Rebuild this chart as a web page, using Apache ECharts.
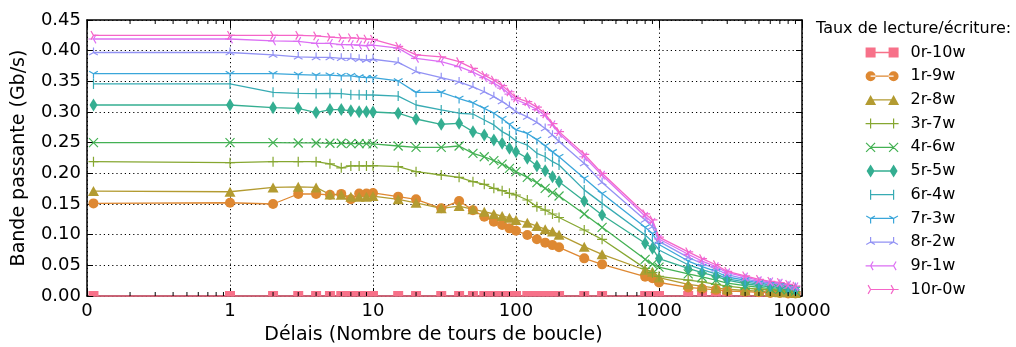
<!DOCTYPE html>
<html><head><meta charset="utf-8">
<script src="https://cdn.jsdelivr.net/npm/echarts@6/dist/echarts.min.js"></script>
<style>html,body{margin:0;padding:0;background:#fff}#c{width:1016px;height:347px}</style>
</head><body><div id="c"></div><script>
// x values (delay); 0 is drawn just right of the 0.1 axis start
const delays = [0,1,2,3,4,5,6,7,8,9,10,15,20,30,40,50,60,70,80,90,100,120,140,160,180,200,300,400,800,900,1000,1600,2000,2500,3000,4000,5000,6000,7000,8000,9000];
const ZERO_POS = 0.111;
const xTickLabels = ['0','1','10','100','1000','10000'];
const yTickLabels = ['0.00','0.05','0.10','0.15','0.20','0.25','0.30','0.35','0.40','0.45'];
const minorTicks = [0.2,0.3,0.4,0.5,0.6,0.7,0.8,0.9,2,3,4,5,6,7,8,9,20,30,40,50,60,70,80,90,200,300,400,500,600,700,800,900,2000,3000,4000,5000,6000,7000,8000,9000];

const seriesNames = ['0r-10w','1r-9w','2r-8w','3r-7w','4r-6w','5r-5w','6r-4w','7r-3w','8r-2w','9r-1w','10r-0w'];

const r0 = [0,0,0,0,0,0,0,0,0,0,0,0,0,0,0,0,0,0,0,0,0,0,0,0,0,0,0,0,0,0,0,0,0,0,0,0,0,0,0,0,0];
const r1 = [0.151,0.152,0.150,0.1663,0.1663,0.165,0.1665,0.1576,0.167,0.167,0.168,0.162,0.1576,0.143,0.155,0.140,0.1293,0.1212,0.1158,0.1103,0.1065,0.0995,0.0924,0.087,0.083,0.0794,0.0614,0.0516,0.0315,0.0288,0.022,0.014,0.012,0.010,0.008,0.007,0.006,0.005,0.005,0.004,0.004];
const r2 = [0.171,0.170,0.177,0.178,0.177,0.1655,0.165,0.162,0.162,0.162,0.163,0.1576,0.152,0.143,0.1467,0.1413,0.1375,0.1337,0.1304,0.1277,0.124,0.1196,0.114,0.109,0.105,0.100,0.0804,0.068,0.0424,0.0397,0.030,0.019,0.016,0.013,0.011,0.009,0.008,0.007,0.006,0.006,0.005];
const r3 = [0.219,0.2174,0.219,0.219,0.219,0.2155,0.209,0.212,0.212,0.212,0.2125,0.2109,0.2027,0.1973,0.1935,0.1864,0.1821,0.1756,0.1717,0.1674,0.1647,0.1565,0.1457,0.140,0.1337,0.128,0.1076,0.0924,0.045,0.038,0.032,0.026,0.023,0.019,0.016,0.013,0.011,0.010,0.009,0.008,0.007];
const r4 = [0.250,0.250,0.250,0.2495,0.2495,0.249,0.249,0.2485,0.2485,0.2484,0.248,0.2446,0.2424,0.2424,0.2446,0.2326,0.227,0.2206,0.215,0.208,0.2027,0.1935,0.1848,0.1755,0.1685,0.163,0.1337,0.112,0.0598,0.052,0.047,0.036,0.031,0.026,0.021,0.017,0.014,0.012,0.011,0.010,0.008];
const r5 = [0.3114,0.3114,0.307,0.306,0.299,0.304,0.304,0.302,0.3005,0.3005,0.300,0.298,0.2886,0.280,0.2816,0.268,0.2625,0.2544,0.249,0.2408,0.2353,0.2245,0.212,0.2043,0.1946,0.1864,0.155,0.132,0.086,0.0777,0.061,0.045,0.038,0.032,0.026,0.020,0.017,0.015,0.014,0.012,0.010];
const r6 = [0.3457,0.3457,0.332,0.3305,0.330,0.3305,0.330,0.3283,0.328,0.3277,0.3277,0.326,0.3114,0.3033,0.298,0.2967,0.287,0.279,0.268,0.2614,0.2527,0.246,0.2326,0.227,0.219,0.2136,0.173,0.151,0.0995,0.0886,0.075,0.051,0.043,0.036,0.028,0.023,0.019,0.017,0.015,0.013,0.011];
const r7 = [0.3625,0.3625,0.3625,0.361,0.360,0.360,0.359,0.359,0.357,0.356,0.356,0.3506,0.332,0.332,0.322,0.315,0.306,0.298,0.289,0.280,0.271,0.265,0.255,0.245,0.235,0.227,0.192,0.167,0.112,0.102,0.084,0.057,0.048,0.040,0.031,0.026,0.021,0.019,0.017,0.015,0.012];
const r8 = [0.397,0.397,0.393,0.390,0.389,0.389,0.3875,0.3875,0.386,0.385,0.386,0.381,0.366,0.356,0.349,0.341,0.333,0.325,0.317,0.309,0.3005,0.292,0.283,0.273,0.262,0.252,0.216,0.185,0.124,0.113,0.089,0.063,0.053,0.044,0.035,0.028,0.023,0.021,0.019,0.016,0.014];
const r9 = [0.419,0.419,0.416,0.415,0.412,0.412,0.410,0.410,0.409,0.408,0.409,0.404,0.3875,0.382,0.374,0.365,0.356,0.347,0.339,0.329,0.320,0.3125,0.304,0.294,0.279,0.265,0.227,0.197,0.130,0.120,0.093,0.068,0.057,0.048,0.038,0.031,0.025,0.023,0.021,0.018,0.015];
const r10 = [0.425,0.425,0.425,0.425,0.424,0.422,0.421,0.421,0.420,0.419,0.4185,0.407,0.393,0.390,0.382,0.371,0.360,0.352,0.343,0.333,0.323,0.317,0.308,0.297,0.281,0.268,0.231,0.200,0.134,0.124,0.096,0.072,0.061,0.051,0.040,0.033,0.027,0.024,0.022,0.019,0.016];
const seriesValues = [r0,r1,r2,r3,r4,r5,r6,r7,r8,r9,r10];

const colors = ['#f77189','#de8832','#b39b31','#86a731','#43b153','#34ae91','#37abb3','#3aa6da','#9292f4','#dc6ff4','#f565c8'];

const FONT = 'DejaVu Sans';
const LF = 'M5,6.35L28,6.35L28,7.65L5,7.65Z';
const LS = 'M5,7L28,7';
const BOX = 'M-1,0M40,14';
const SB = 'M-5,-5M5,5';
// [symbol, size, filled, legend icon path, offset]
const marks = [
  ['rect',[10,5],true, BOX+'M0,2L10,2L10,12L0,12ZM23,2L33,2L33,12L23,12Z'+LF, [0,-2.5]],
  ['circle',10,true, BOX+'M0,7A5,5 0 1,0 10,7A5,5 0 1,0 0,7ZM23,7A5,5 0 1,0 33,7A5,5 0 1,0 23,7Z'+LF],
  ['triangle',[11,10],true, BOX+'M5,2L10.5,12L-0.5,12ZM28,2L33.5,12L22.5,12Z'+LF],
  ['path://'+SB+'M0,-5L0,5M-5,0L5,0',10,false, BOX+'M5,2L5,12M0,7L10,7M28,2L28,12M23,7L33,7'+LS],
  ['path://'+SB+'M-4.5,-4.5L4.5,4.5M-4.5,4.5L4.5,-4.5',10,false, BOX+'M0.5,2.5L9.5,11.5M0.5,11.5L9.5,2.5M23.5,2.5L32.5,11.5M23.5,11.5L32.5,2.5'+LS],
  ['diamond',[8,13],true, BOX+'M5,0.5L9,7L5,13.5L1,7ZM28,0.5L32,7L28,13.5L24,7Z'+LF],
  ['path://'+SB+'M0,-5L0,5',10,false, BOX+'M5,2L5,12M28,2L28,12'+LS],
  ['path://'+SB+'M0,0L0,5M0,0L-4.33,-2.5M0,0L4.33,-2.5',10,false, BOX+'M5,7L5,12M5,7L0.67,4.5M5,7L9.33,4.5M28,7L28,12M28,7L23.67,4.5M28,7L32.33,4.5'+LS],
  ['path://'+SB+'M0,0L0,-5M0,0L-4.33,2.5M0,0L4.33,2.5',10,false, BOX+'M5,7L5,2M5,7L0.67,9.5M5,7L9.33,9.5M28,7L28,2M28,7L23.67,9.5M28,7L32.33,9.5'+LS],
  ['path://'+SB+'M0,0L-5,0M0,0L2.5,-4.33M0,0L2.5,4.33',10,false, BOX+'M5,7L0,7M5,7L7.5,2.67M5,7L7.5,11.33M28,7L23,7M28,7L30.5,2.67M28,7L30.5,11.33'+LS],
  ['path://'+SB+'M0,0L5,0M0,0L-2.5,-4.33M0,0L-2.5,4.33',10,false, BOX+'M5,7L10,7M5,7L2.5,2.67M5,7L2.5,11.33M28,7L33,7M28,7L25.5,2.67M28,7L25.5,11.33'+LS]
];

const series = seriesNames.map((name, i) => {
  const m = marks[i];
  const c = colors[i];
  return {
    name, type: 'line', xAxisIndex: 0, yAxisIndex: 0,
    data: delays.map((d, k) => [d === 0 ? ZERO_POS : d, seriesValues[i][k]]),
    symbol: m[0], symbolSize: m[1], symbolOffset: m[4] || [0,0],
    showSymbol: true, showAllSymbol: true, clip: false,
    lineStyle: { color: c, width: 1.3 },
    itemStyle: m[2] ? { color: c, borderWidth: 0 } : { color: 'rgba(0,0,0,0)', borderColor: c, borderWidth: 1.2 },
    emphasis: { disabled: true },
    animation: false
  };
});

series.push({
  type: 'custom', xAxisIndex: 0, yAxisIndex: 0, silent: true, clip: false, z: 5, animation: false,
  data: minorTicks.map(v => [v, 0]),
  encode: { x: 0, y: 1 },
  renderItem: (params, api) => {
    const v = api.value(0);
    const b = api.coord([v, 0]);
    const t = api.coord([v, 0.45]);
    return { type: 'group', children: [
      { type: 'line', shape: { x1: b[0], y1: b[1], x2: b[0], y2: b[1] - 4 }, style: { stroke: '#000', lineWidth: 1 } },
      { type: 'line', shape: { x1: t[0], y1: t[1], x2: t[0], y2: t[1] + 4 }, style: { stroke: '#000', lineWidth: 1 } }
    ]};
  }
});

const axisLine = { show: true, onZero: false, lineStyle: { color: '#000', width: 1.5 } };
const gridLine = { show: true, lineStyle: { color: '#000', width: 1, type: [1.2, 3] } };

const option = {
  backgroundColor: '#fff',
  animation: false,
  title: { text: 'Taux de lecture/écriture:', left: 816, top: 21, padding: 0,
    textStyle: { fontSize: 16, fontWeight: 'normal', color: '#000', fontFamily: FONT } },
  legend: {
    orient: 'vertical', left: 864, top: 44.5, itemWidth: 41, itemHeight: 14, itemGap: 7.7, padding: 0,
    selectedMode: false,
    textStyle: { fontSize: 16, color: '#000', fontFamily: FONT, lineHeight: 14 },
    data: seriesNames.map((name, i) => ({
      name, icon: 'path://' + marks[i][3],
      itemStyle: marks[i][2] ? { color: colors[i], borderWidth: 0 } : { color: 'rgba(0,0,0,0)', borderColor: colors[i], borderWidth: 1.2 }
    }))
  },
  grid: { left: 87, right: 214, top: 20, bottom: 51, containLabel: false, outerBoundsMode: 'none' },
  xAxis: [
    { type: 'log', logBase: 10, min: 0.1, max: 10000, position: 'bottom', z: 3,
      axisLine, axisTick: { show: true, inside: true, length: 8, lineStyle: { color: '#000', width: 1 } },
      axisLabel: { color: '#000', fontSize: 18, fontFamily: FONT, margin: 6, showMinLabel: true, showMaxLabel: true,
        formatter: v => xTickLabels[Math.round(Math.log10(v)) + 1] },
      splitLine: gridLine, minorTick: { show: false },
      name: 'Délais (Nombre de tours de boucle)', nameLocation: 'middle', nameGap: 30,
      nameTextStyle: { fontSize: 19, color: '#000', fontFamily: FONT, padding: [0, 22, 0, 0] } },
    { type: 'log', logBase: 10, min: 0.1, max: 10000, position: 'top', z: 3,
      axisLine, axisTick: { show: true, inside: true, length: 8, lineStyle: { color: '#000', width: 1 } },
      axisLabel: { show: false }, splitLine: { show: false } }
  ],
  yAxis: [
    { type: 'value', min: 0, max: 0.45, interval: 0.05, position: 'left', z: 3,
      axisLine, axisTick: { show: true, inside: true, length: 6, lineStyle: { color: '#000', width: 1 } },
      axisLabel: { color: '#000', fontSize: 18, fontFamily: FONT, margin: 6,
        formatter: v => yTickLabels[Math.round(v / 0.05)] },
      splitLine: gridLine,
      name: 'Bande passante (Gb/s)', nameLocation: 'middle', nameGap: 58, nameRotate: 90,
      nameTextStyle: { fontSize: 19, color: '#000', fontFamily: FONT } },
    { type: 'value', min: 0, max: 0.45, interval: 0.05, position: 'right', z: 3,
      axisLine, axisTick: { show: true, inside: true, length: 6, lineStyle: { color: '#000', width: 1 } },
      axisLabel: { show: false }, splitLine: { show: false } }
  ],
  series
};

const chart = echarts.init(document.getElementById('c'), null, { renderer: 'canvas' });
chart.setOption(option);
</script></body></html>
